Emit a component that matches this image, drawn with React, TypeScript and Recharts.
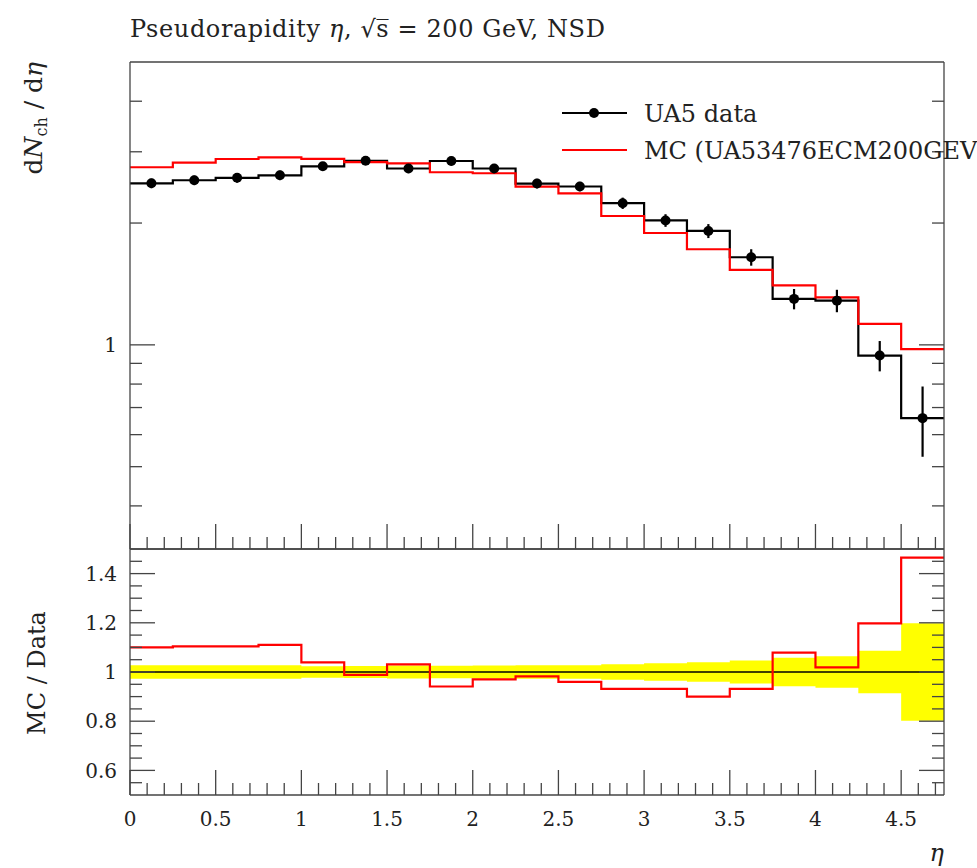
import {
  ComposedChart,
  Line,
  Scatter,
  Area,
  XAxis,
  YAxis,
  ErrorBar,
  ReferenceLine,
  Legend,
} from 'recharts'

// histogram bin edges in eta (19 bins of 0.25)
const etaEdges = [0, 0.25, 0.5, 0.75, 1, 1.25, 1.5, 1.75, 2, 2.25, 2.5, 2.75, 3, 3.25, 3.5, 3.75, 4, 4.25, 4.5, 4.75]

// UA5 data, dN_ch/deta per bin
const ua5Values = [2.507, 2.551, 2.587, 2.624, 2.762, 2.85, 2.728, 2.847, 2.728, 2.504, 2.462, 2.239, 2.03, 1.912, 1.646, 1.299, 1.286, 0.941, 0.659]
const ua5Errors = [0.068, 0.069, 0.07, 0.071, 0.064, 0.068, 0.071, 0.071, 0.071, 0.068, 0.066, 0.072, 0.073, 0.076, 0.077, 0.075, 0.082, 0.081, 0.13]

// MC prediction per bin
const mcValues = [2.747, 2.819, 2.879, 2.907, 2.88, 2.83, 2.81, 2.67, 2.655, 2.46, 2.369, 2.082, 1.89, 1.723, 1.532, 1.403, 1.31, 1.127, 0.976]

// MC / Data ratio and relative data uncertainty (yellow band)
const ratioValues = [1.1, 1.104, 1.104, 1.11, 1.039, 0.988, 1.031, 0.941, 0.97, 0.982, 0.96, 0.931, 0.931, 0.9, 0.931, 1.079, 1.019, 1.198, 1.465]
const ratioBand = [0.027, 0.027, 0.027, 0.027, 0.023, 0.024, 0.026, 0.025, 0.026, 0.027, 0.027, 0.032, 0.036, 0.04, 0.047, 0.058, 0.064, 0.086, 0.198]

// axis ticks
const xMajorTicks = [0, 0.5, 1, 1.5, 2, 2.5, 3, 3.5, 4, 4.5]
const xMinorTicks = Array.from({ length: 48 }, (_, i) => i / 10)
const logTicks = [0.4, 0.5, 0.6, 0.7, 0.8, 0.9, 1, 2, 3, 4]
const logMajorTicks = [1]
const ratioMajorTicks = [0.6, 0.8, 1, 1.2, 1.4]
const ratioMinorTicks = Array.from({ length: 19 }, (_, i) => Math.round((0.55 + i * 0.05) * 100) / 100)

const FONT = '"DejaVu Serif", serif'
const FRAME = '#444'
const W = 977
const H = 868

const last = ua5Values.length - 1
const stepData = etaEdges.map((eta, i) => {
  const k = Math.min(i, last)
  return {
    eta,
    data: ua5Values[k],
    mc: mcValues[k],
    ratio: ratioValues[k],
    band: [1 - ratioBand[k], 1 + ratioBand[k]],
  }
})
const pointData = ua5Values.map((v, i) => ({
  eta: (etaEdges[i] + etaEdges[i + 1]) / 2,
  value: v,
  err: ua5Errors[i],
}))

const isIn = (v: number, list: number[]) => list.some((m) => Math.abs(m - v) < 1e-6)
const fmt = (v: number) => (Number.isInteger(v) ? String(v) : v.toFixed(1))

// x ticks: dir is +1 for ticks pointing down, -1 for up
function xTick(dir: number, withLabel: boolean) {
  // eslint-disable-next-line @typescript-eslint/no-explicit-any
  return (props: any) => {
    const { x, y, payload } = props
    const v = Number(payload.value)
    const major = isIn(v, xMajorTicks)
    return (
      <g key={`xt-${dir}-${v}`}>
        <line x1={x} x2={x} y1={y} y2={y + dir * (major ? 25 : 12)} stroke={FRAME} strokeWidth={1.3} />
        {withLabel && major ? (
          <text x={x} y={y + 31} textAnchor="middle" fontFamily={FONT} fontSize={20} fill="#222">
            {fmt(v)}
          </text>
        ) : null}
      </g>
    )
  }
}

// y ticks: dir is +1 for ticks pointing right, -1 for left
function yTick(dir: number, majors: number[], withLabel: boolean) {
  // eslint-disable-next-line @typescript-eslint/no-explicit-any
  return (props: any) => {
    const { x, y, payload } = props
    const v = Number(payload.value)
    const major = isIn(v, majors)
    return (
      <g key={`yt-${dir}-${v}`}>
        <line x1={x} x2={x + dir * (major ? 25 : 12)} y1={y} y2={y} stroke={FRAME} strokeWidth={1.3} />
        {withLabel && major ? (
          <text x={x - 13} y={y} dy="0.36em" textAnchor="end" fontFamily={FONT} fontSize={20} fill="#222">
            {fmt(v)}
          </text>
        ) : null}
      </g>
    )
  }
}

function HistoLegend() {
  return (
    <svg width={430} height={80} style={{ overflow: 'visible', display: 'block' }}>
      <line x1={7} x2={72} y1={18} y2={18} stroke="#000" strokeWidth={2.2} />
      <circle cx={39} cy={18} r={5} fill="#000" />
      <text x={89} y={27} fontFamily={FONT} fontSize={24} fill="#222">
        UA5 data
      </text>
      <line x1={7} x2={72} y1={55} y2={55} stroke="#ff0000" strokeWidth={2.2} />
      <text x={89} y={64} fontFamily={FONT} fontSize={24} fill="#222">
        MC (UA53476ECM200GEV)
      </text>
    </svg>
  )
}

const axisLine = { stroke: FRAME, strokeWidth: 1.3 }

// shared axis props: 1px thick axes so the plot box equals the margins
const xCommon = {
  type: 'number' as const,
  domain: [0, 4.75],
  ticks: xMinorTicks,
  interval: 0 as const,
  height: 1,
  tickSize: 0,
  tickMargin: 0,
  axisLine,
  tickLine: false,
  allowDataOverflow: true,
}

export default function App() {
  return (
    <div style={{ position: 'absolute', left: 0, top: 0, width: W, height: H, overflow: 'hidden', background: '#fff' }}>
      {/* main panel: log scale */}
      <div style={{ position: 'absolute', left: 0, top: 0 }}>
        <ComposedChart width={W} height={H} margin={{ top: 61, right: 32, bottom: H - 549 - 1, left: 129 }}>
          <XAxis {...xCommon} dataKey="eta" tick={xTick(-1, false)} />
          <XAxis {...xCommon} xAxisId="top" orientation="top" tick={xTick(1, false)} />
          <YAxis
            type="number"
            scale="log"
            domain={[0.313, 5]}
            ticks={logTicks}
            interval={0}
            width={1}
            tickSize={0}
            tickMargin={0}
            axisLine={axisLine}
            tickLine={false}
            tick={yTick(1, logMajorTicks, true)}
            allowDataOverflow
          />
          <YAxis
            yAxisId="right"
            orientation="right"
            type="number"
            scale="log"
            domain={[0.313, 5]}
            ticks={logTicks}
            interval={0}
            width={1}
            tickSize={0}
            tickMargin={0}
            axisLine={axisLine}
            tickLine={false}
            tick={yTick(-1, logMajorTicks, false)}
            allowDataOverflow
          />
          <Legend
            layout="horizontal"
            verticalAlign="middle"
            align="center"
            content={<HistoLegend />}
            wrapperStyle={{ top: 95, left: 555, width: 430, height: 80 }}
          />
          <Line
            data={stepData}
            dataKey="data"
            type="stepAfter"
            stroke="#000"
            strokeWidth={2.2}
            dot={false}
            activeDot={false}
            isAnimationActive={false}
          />
          <Line
            data={stepData}
            dataKey="mc"
            type="stepAfter"
            stroke="#ff0000"
            strokeWidth={2.2}
            dot={false}
            activeDot={false}
            isAnimationActive={false}
          />
          <Scatter
            data={pointData}
            dataKey="value"
            isAnimationActive={false}
            // eslint-disable-next-line @typescript-eslint/no-explicit-any
            shape={(p: any) => <circle cx={p.cx} cy={p.cy} r={5} fill="#000" />}
          >
            <ErrorBar dataKey="err" direction="y" width={0} stroke="#000" strokeWidth={2.2} isAnimationActive={false} />
          </Scatter>
        </ComposedChart>
      </div>

      {/* ratio panel */}
      <div style={{ position: 'absolute', left: 0, top: 0 }}>
        <ComposedChart width={W} height={H} margin={{ top: 548, right: 32, bottom: H - 795 - 1, left: 129 }}>
          <XAxis {...xCommon} dataKey="eta" tick={xTick(-1, true)} />
          <XAxis {...xCommon} xAxisId="top" orientation="top" tick={xTick(1, false)} />
          <YAxis
            type="number"
            domain={[0.5, 1.5]}
            ticks={ratioMinorTicks}
            interval={0}
            width={1}
            tickSize={0}
            tickMargin={0}
            axisLine={axisLine}
            tickLine={false}
            tick={yTick(1, ratioMajorTicks, true)}
            allowDataOverflow
          />
          <YAxis
            yAxisId="right"
            orientation="right"
            type="number"
            domain={[0.5, 1.5]}
            ticks={ratioMinorTicks}
            interval={0}
            width={1}
            tickSize={0}
            tickMargin={0}
            axisLine={axisLine}
            tickLine={false}
            tick={yTick(-1, ratioMajorTicks, false)}
            allowDataOverflow
          />
          <Area
            data={stepData}
            dataKey="band"
            type="stepAfter"
            stroke="none"
            fill="#ffff00"
            fillOpacity={1}
            dot={false}
            activeDot={false}
            isAnimationActive={false}
          />
          <ReferenceLine y={1} stroke="#000" strokeWidth={1.5} />
          <Line
            data={stepData}
            dataKey="ratio"
            type="stepAfter"
            stroke="#ff0000"
            strokeWidth={2.2}
            dot={false}
            activeDot={false}
            isAnimationActive={false}
          />
        </ComposedChart>
      </div>

      {/* title and axis labels */}
      <svg width={W} height={H} style={{ position: 'absolute', left: 0, top: 0, pointerEvents: 'none' }}>
        <text x={130} y={37} fontFamily={FONT} fontSize={24} letterSpacing={0.6} fill="#222">
          Pseudorapidity <tspan fontStyle="italic">η</tspan>, √s̅ = 200 GeV, NSD
        </text>
        <text transform="translate(42,62) rotate(-90)" textAnchor="end" fontFamily={FONT} fontSize={25} fill="#222">
          d<tspan fontStyle="italic">N</tspan>
          <tspan fontSize={16} dy={5}>ch</tspan>
          <tspan dy={-5}> / d</tspan>
          <tspan fontStyle="italic">η</tspan>
        </text>
        <text transform="translate(45,673) rotate(-90)" textAnchor="middle" fontFamily={FONT} fontSize={24} fill="#222">
          MC / Data
        </text>
        <text x={944} y={861} textAnchor="end" fontFamily={FONT} fontStyle="italic" fontSize={24} fill="#222">
          η
        </text>
      </svg>
    </div>
  )
}
